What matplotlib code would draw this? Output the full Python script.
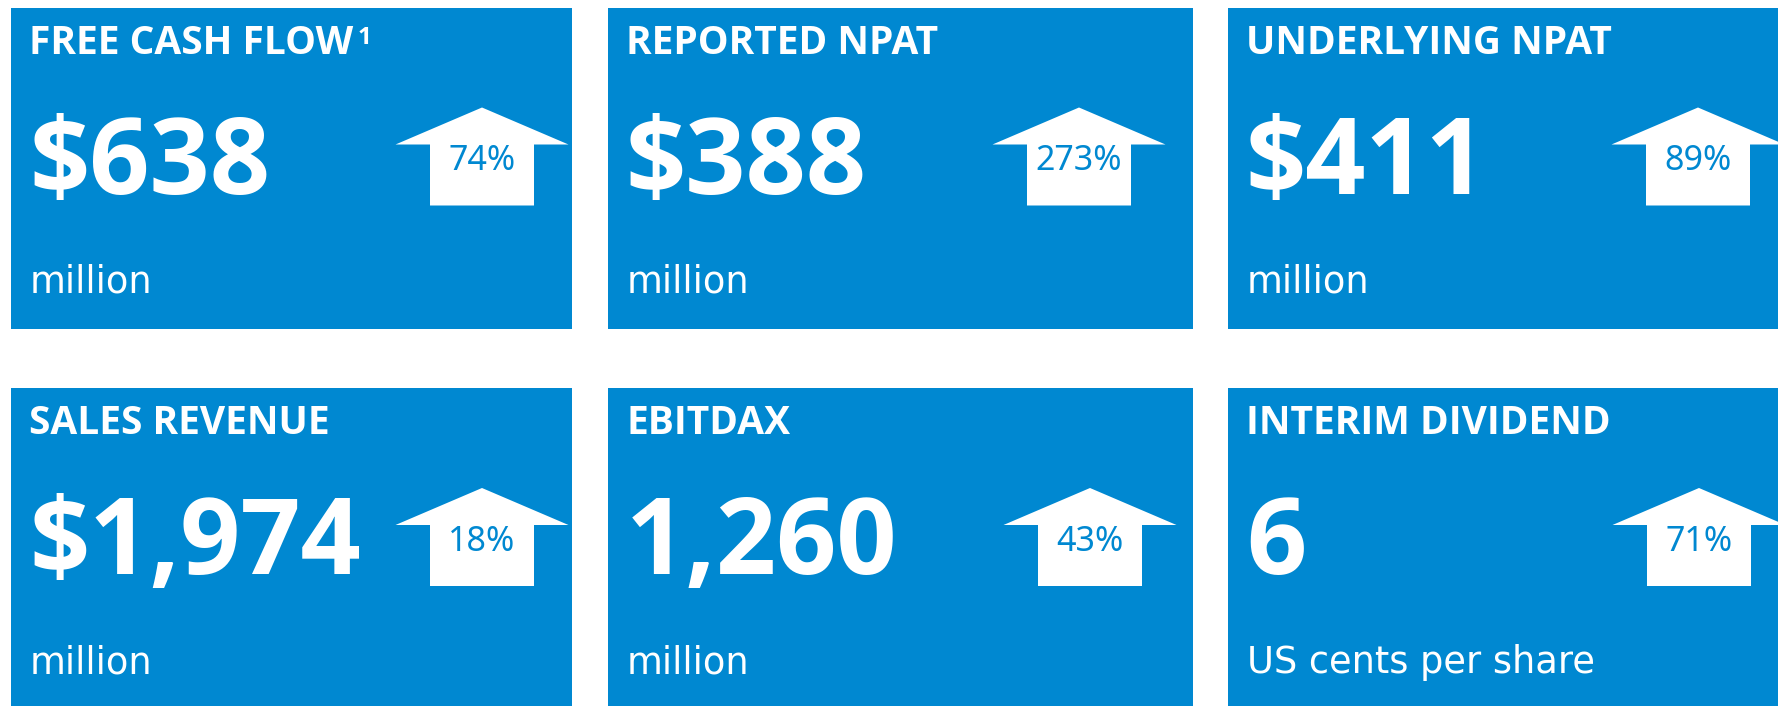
"""業績ハイライト: 6 枚の青いタイルに主要指標と前年比の上向き矢印を描く。"""

import matplotlib

matplotlib.use("Agg")
import matplotlib.pyplot as plt
from matplotlib import font_manager
from matplotlib.patches import Polygon, Rectangle

# --- data ---
titles = ["FREE CASH FLOW", "REPORTED NPAT", "UNDERLYING NPAT",
          "SALES REVENUE", "EBITDAX", "INTERIM DIVIDEND"]
footnotes = ["1", "", "", "", "", ""]
values = ["$638", "$388", "$411", "$1,974", "1,260", "6"]
changes_pct = [74, 273, 89, 18, 43, 71]
units = ["million", "million", "million", "million", "million", "US cents per share"]

# --- layout (pixels, figure is 1778 x 706) ---
W, H = 1778, 706
col_left = [11, 608, 1228]
col_width = [561, 585, 560]
row_top = [7.5, 388]
box_h = 321
arrow_dx = [471, 471, 470, 471, 482, 471]   # tip x from box left

BLUE = "#0088D1"
UNIT_FONT = ["DejaVu Sans"]


def pick_bold_family():
    # 太字ファイルが実際にある最初のファミリーを使う
    for fam in ["Open Sans", "Noto Sans", "Lato", "Roboto"]:
        try:
            path = font_manager.findfont(
                font_manager.FontProperties(family=fam, weight="bold"),
                fallback_to_default=False)
        except ValueError:
            continue
        if "bold" in path.lower():
            return fam
    return "DejaVu Sans"


BOLD_FONT = [pick_bold_family(), "DejaVu Sans"]

fig = plt.figure(figsize=(W / 100, H / 100), dpi=100)
ax = fig.add_axes([0, 0, 1, 1])
ax.set_xlim(0, W)
ax.set_ylim(H, 0)
ax.axis("off")

title_texts = []
for i, (title, val, pct, unit) in enumerate(zip(titles, values, changes_pct, units)):
    r, c = divmod(i, 3)
    x0, y0 = col_left[c], row_top[r]
    ax.add_patch(Rectangle((x0, y0), col_width[c], box_h, facecolor=BLUE,
                           edgecolor="none"))

    t = ax.text(x0 + 18, y0 + 46.5, title, color="white", fontsize=28,
                fontweight="bold", family=BOLD_FONT, va="baseline", ha="left")
    title_texts.append(t)
    ax.text(x0 + 18, y0 + 186, val, color="white", fontsize=76,
            fontweight="bold", family=BOLD_FONT, va="baseline", ha="left")
    ax.text(x0 + 19, y0 + 285, unit, color="white", fontsize=26.5,
            family=UNIT_FONT, va="baseline", ha="left")

    # up arrow
    tx = x0 + arrow_dx[i]
    head_half, shaft_half = 86.5, 52
    pts = [
        (tx, y0 + 100),
        (tx + head_half, y0 + 137),
        (tx + shaft_half, y0 + 137),
        (tx + shaft_half, y0 + 198),
        (tx - shaft_half, y0 + 198),
        (tx - shaft_half, y0 + 137),
        (tx - head_half, y0 + 137),
    ]
    ax.add_patch(Polygon(pts, closed=True, facecolor="white", edgecolor="none"))
    ax.text(tx, y0 + 163, f"{pct}%", color=BLUE, fontsize=24.5,
            family=["Noto Sans", "DejaVu Sans"], va="baseline", ha="center")

# 脚注の上付き数字はタイトル幅を測ってから置く
fig.canvas.draw()
inv = ax.transData.inverted()
for i, (t, note) in enumerate(zip(title_texts, footnotes)):
    if not note:
        continue
    r, c = divmod(i, 3)
    bb = t.get_window_extent().transformed(inv)
    ax.text(bb.x1 + 4, row_top[r] + 36, note, color="white", fontsize=17.5,
            fontweight="bold", family=BOLD_FONT, va="baseline", ha="left")

fig.savefig("out.png", dpi=100, facecolor="white")
